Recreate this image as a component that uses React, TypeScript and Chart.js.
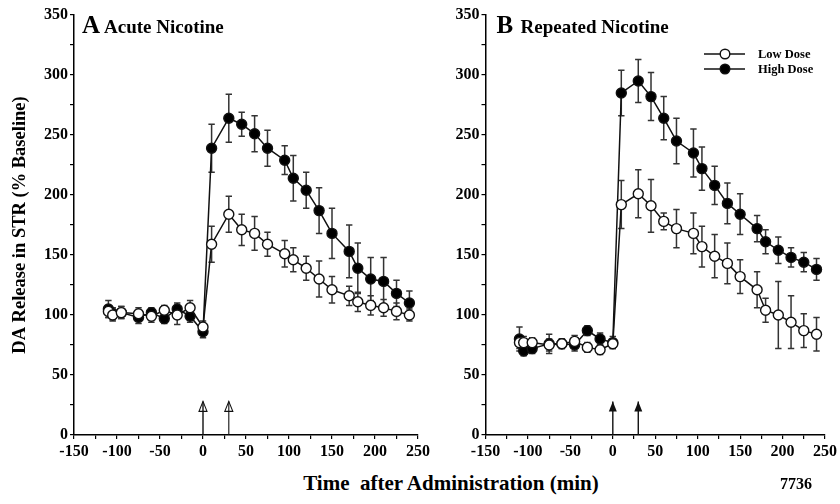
import React, { useEffect, useRef } from 'react';
import { Chart, registerables } from 'chart.js';

Chart.register(...registerables);

const FONT = '"Liberation Serif", "Times New Roman", Times, serif';

// ---- data ----
const timesA = [-110, -105, -95, -75, -60, -45, -30, -15, 0, 10, 30, 45, 60, 75, 95, 105, 120, 135, 150, 170, 180, 195, 210, 225, 240];
const acuteLow = [103, 100, 102, 101, 99, 104, 100, 106, 90, 159, 184, 171, 168, 159, 151, 146, 139, 130, 121, 116, 111, 108, 106, 103, 100];
const acuteLowErr = [5, 5, 5, 5, 5, 4, 8, 6, 5, 15, 15, 13, 14, 10, 11, 10, 10, 15, 11, 8, 8, 8, 7, 7, 5];
const acuteHigh = [105, 101, 102, 98, 102, 97, 105, 99, 86, 239, 264, 259, 251, 239, 229, 214, 204, 187, 168, 153, 139, 130, 128, 118, 110];
const acuteHighErr = [7, 5, 5, 5, 4, 4, 5, 5, 5, 20, 20, 10, 15, 15, 12, 19, 15, 19, 21, 22, 21, 18, 20, 11, 10];

const timesB = [-110, -105, -95, -75, -60, -45, -30, -15, 0, 10, 30, 45, 60, 75, 95, 105, 120, 135, 150, 170, 180, 195, 210, 225, 240];
const repeatedLow = [77, 77, 77, 75, 76, 78, 73, 71, 76, 192, 201, 191, 178, 172, 168, 157, 149, 143, 132, 121, 104, 100, 94, 87, 84];
const repeatedLowErr = [5, 5, 4, 5, 4, 5, 4, 4, 4, 20, 20, 22, 7, 16, 17, 17, 18, 17, 14, 15, 10, 28, 22, 14, 14];
const repeatedHigh = [80, 70, 72, 76, 76, 75, 87, 80, 77, 285, 295, 282, 264, 245, 235, 222, 208, 193, 184, 172, 161, 154, 148, 144, 138];
const repeatedHighErr = [10, 4, 4, 8, 4, 5, 4, 5, 5, 19, 18, 20, 18, 19, 20, 18, 16, 17, 17, 11, 10, 11, 8, 8, 9];

const injectionTimes = [0, 30];
const arrowTopValue = 28;
const seriesLabels = ['Low Dose', 'High Dose'];
const panelLetters = ['A', 'B'];
const panelTitles = ['Acute Nicotine', 'Repeated Nicotine'];
const yAxisTitle = 'DA Release in STR (% Baseline)';
const xAxisTitle = 'Time  after Administration (min)';
const figureCode = '7736';
const xMin = -150, xMax = 250, xStep = 25, xLabelEvery = 50;
const yMin = 0, yMax = 350, yStep = 25, yLabelEvery = 50;

// ---- plugins ----
const errorBarPlugin = {
  id: 'errorBars',
  beforeDatasetsDraw(chart: any) {
    const ctx = chart.ctx;
    const ys = chart.scales.y;
    chart.data.datasets.forEach((ds: any, i: number) => {
      const errs = ds.errors;
      if (!errs) return;
      const meta = chart.getDatasetMeta(i);
      ctx.save();
      ctx.strokeStyle = '#333';
      ctx.lineWidth = 1.5;
      meta.data.forEach((pt: any, j: number) => {
        const v = ds.data[j].y;
        const e = errs[j];
        const x = pt.x;
        const yt = ys.getPixelForValue(v + e);
        const yb = ys.getPixelForValue(v - e);
        ctx.beginPath();
        ctx.moveTo(x, yt); ctx.lineTo(x, yb);
        ctx.moveTo(x - 3.2, yt); ctx.lineTo(x + 3.2, yt);
        ctx.moveTo(x - 3.2, yb); ctx.lineTo(x + 3.2, yb);
        ctx.stroke();
      });
      ctx.restore();
    });
  },
};

const arrowPlugin = {
  id: 'arrows',
  afterDatasetsDraw(chart: any, _args: any, opts: any) {
    if (!opts || !opts.times) return;
    const ctx = chart.ctx;
    const xs = chart.scales.x, ys = chart.scales.y;
    ctx.save();
    ctx.strokeStyle = '#111';
    ctx.fillStyle = '#111';
    ctx.lineWidth = 1.4;
    opts.times.forEach((t: number) => {
      const x = xs.getPixelForValue(t);
      const y0 = ys.getPixelForValue(0);
      const yt = ys.getPixelForValue(opts.top);
      ctx.beginPath();
      ctx.moveTo(x, y0); ctx.lineTo(x, yt);
      ctx.stroke();
      ctx.beginPath();
      ctx.moveTo(x, yt);
      ctx.lineTo(x - 4, yt + 10);
      ctx.lineTo(x + 4, yt + 10);
      ctx.closePath();
      if (opts.hollow) {
        ctx.lineWidth = 1.1;
        ctx.stroke();
      } else {
        ctx.fill();
      }
    });
    ctx.restore();
  },
};

const panelTitlePlugin = {
  id: 'panelTitle',
  afterDraw(chart: any, _args: any, opts: any) {
    if (!opts || !opts.letter) return;
    const ctx = chart.ctx;
    const l = chart.chartArea.left;
    ctx.save();
    ctx.fillStyle = '#000';
    ctx.textBaseline = 'alphabetic';
    ctx.font = `bold 25px ${FONT}`;
    ctx.fillText(opts.letter, l + opts.letterOffset, 33);
    ctx.font = `bold 19px ${FONT}`;
    ctx.fillText(opts.text, l + opts.textOffset, 33);
    ctx.restore();
  },
};

const doseLegendPlugin = {
  id: 'doseLegend',
  afterDraw(chart: any, _args: any, opts: any) {
    if (!opts || !opts.show) return;
    const ctx = chart.ctx;
    const r = chart.chartArea.right;
    const x1 = r - 121, x2 = r - 80, cx = r - 100, tx = r - 67;
    const rows = [54, 69];
    ctx.save();
    chart.data.datasets.forEach((ds: any, i: number) => {
      const y = rows[i];
      ctx.strokeStyle = '#111';
      ctx.lineWidth = 1.4;
      ctx.beginPath(); ctx.moveTo(x1, y); ctx.lineTo(x2, y); ctx.stroke();
      ctx.beginPath(); ctx.arc(cx, y, 4.8, 0, Math.PI * 2);
      ctx.fillStyle = ds.pointBackgroundColor;
      ctx.fill(); ctx.stroke();
      ctx.fillStyle = '#000';
      ctx.font = `bold 12.5px ${FONT}`;
      ctx.textBaseline = 'middle';
      ctx.fillText(ds.label, tx, y + 1);
    });
    ctx.restore();
  },
};

function series(times: number[], vals: number[], errs: number[], label: string, filled: boolean) {
  return {
    label,
    data: times.map((t, i) => ({ x: t, y: vals[i] })),
    errors: errs,
    showLine: true,
    borderColor: '#111',
    borderWidth: 1.5,
    pointRadius: 5,
    pointHoverRadius: 5,
    pointBorderWidth: 1.4,
    pointBorderColor: '#111',
    pointBackgroundColor: filled ? '#000' : '#fff',
    backgroundColor: filled ? '#000' : '#fff',
    tension: 0,
  };
}

function makeConfig(panel: number): any {
  const isA = panel === 0;
  const datasets = isA
    ? [series(timesA, acuteLow, acuteLowErr, seriesLabels[0], false), series(timesA, acuteHigh, acuteHighErr, seriesLabels[1], true)]
    : [series(timesB, repeatedLow, repeatedLowErr, seriesLabels[0], false), series(timesB, repeatedHigh, repeatedHighErr, seriesLabels[1], true)];
  const tickFont = { family: FONT, size: 16, weight: 'bold' as const };
  return {
    type: 'scatter',
    data: { datasets },
    plugins: [errorBarPlugin, arrowPlugin, panelTitlePlugin, doseLegendPlugin],
    options: {
      animation: false,
      responsive: false,
      maintainAspectRatio: false,
      events: [],
      layout: { padding: { left: 0, right: isA ? 27 : 12, top: 15, bottom: 10 } },
      plugins: {
        legend: { display: false },
        tooltip: { enabled: false },
        arrows: { times: injectionTimes, top: arrowTopValue, hollow: isA },
        panelTitle: {
          letter: panelLetters[panel],
          text: panelTitles[panel],
          letterOffset: isA ? 8 : 11,
          textOffset: isA ? 30 : 35,
        },
        doseLegend: { show: !isA },
      },
      scales: {
        x: {
          type: 'linear',
          min: xMin,
          max: xMax,
          afterFit(scale: any) { scale.height = 25; },
          ticks: {
            stepSize: xStep,
            color: '#000',
            font: tickFont,
            padding: 3,
            maxRotation: 0,
            autoSkip: false,
            callback: (v: number) => (v % xLabelEvery === 0 ? String(v) : ''),
          },
          grid: { drawOnChartArea: false, drawTicks: true, tickLength: 4, color: '#000', lineWidth: 1.2 },
          border: { color: '#000', width: 1.5 },
        },
        y: {
          type: 'linear',
          min: yMin,
          max: yMax,
          afterFit(scale: any) { scale.width = isA ? 74 : 55.5; },
          title: isA
            ? { display: true, text: yAxisTitle, color: '#000', font: { family: FONT, size: 18.5, weight: 'bold' }, padding: { top: 9, bottom: 0 } }
            : { display: false },
          ticks: {
            stepSize: yStep,
            color: '#000',
            font: tickFont,
            padding: 2,
            autoSkip: false,
            callback: (v: number) => (v % yLabelEvery === 0 ? String(v) : ''),
          },
          grid: { drawOnChartArea: false, drawTicks: true, tickLength: 4, color: '#000', lineWidth: 1.2 },
          border: { color: '#000', width: 1.5 },
        },
      },
    },
  };
}

function Panel({ panel, left, width }: { panel: number; left: number; width: number }) {
  const ref = useRef<HTMLCanvasElement>(null);
  useEffect(() => {
    if (!ref.current) return;
    const chart = new Chart(ref.current, makeConfig(panel));
    return () => chart.destroy();
  }, [panel]);
  return (
    <canvas
      ref={ref}
      width={width}
      height={470}
      style={{ position: 'absolute', left, top: 0, width, height: 470 }}
    />
  );
}

export default function App() {
  return (
    <div style={{ position: 'fixed', left: 0, top: 0, width: 840, height: 504, background: '#fff', overflow: 'hidden' }}>
      <Panel panel={0} left={0} width={445} />
      <Panel panel={1} left={430} width={410} />
      <div
        style={{
          position: 'absolute', left: 0, width: 902, top: 471, textAlign: 'center',
          font: `bold 21px ${FONT}`, lineHeight: '24px', whiteSpace: 'pre', color: '#000',
        }}
      >
        {xAxisTitle}
      </div>
      <div style={{ position: 'absolute', left: 780, top: 474, font: `bold 16px ${FONT}`, lineHeight: '20px', color: '#000' }}>
        {figureCode}
      </div>
    </div>
  );
}
